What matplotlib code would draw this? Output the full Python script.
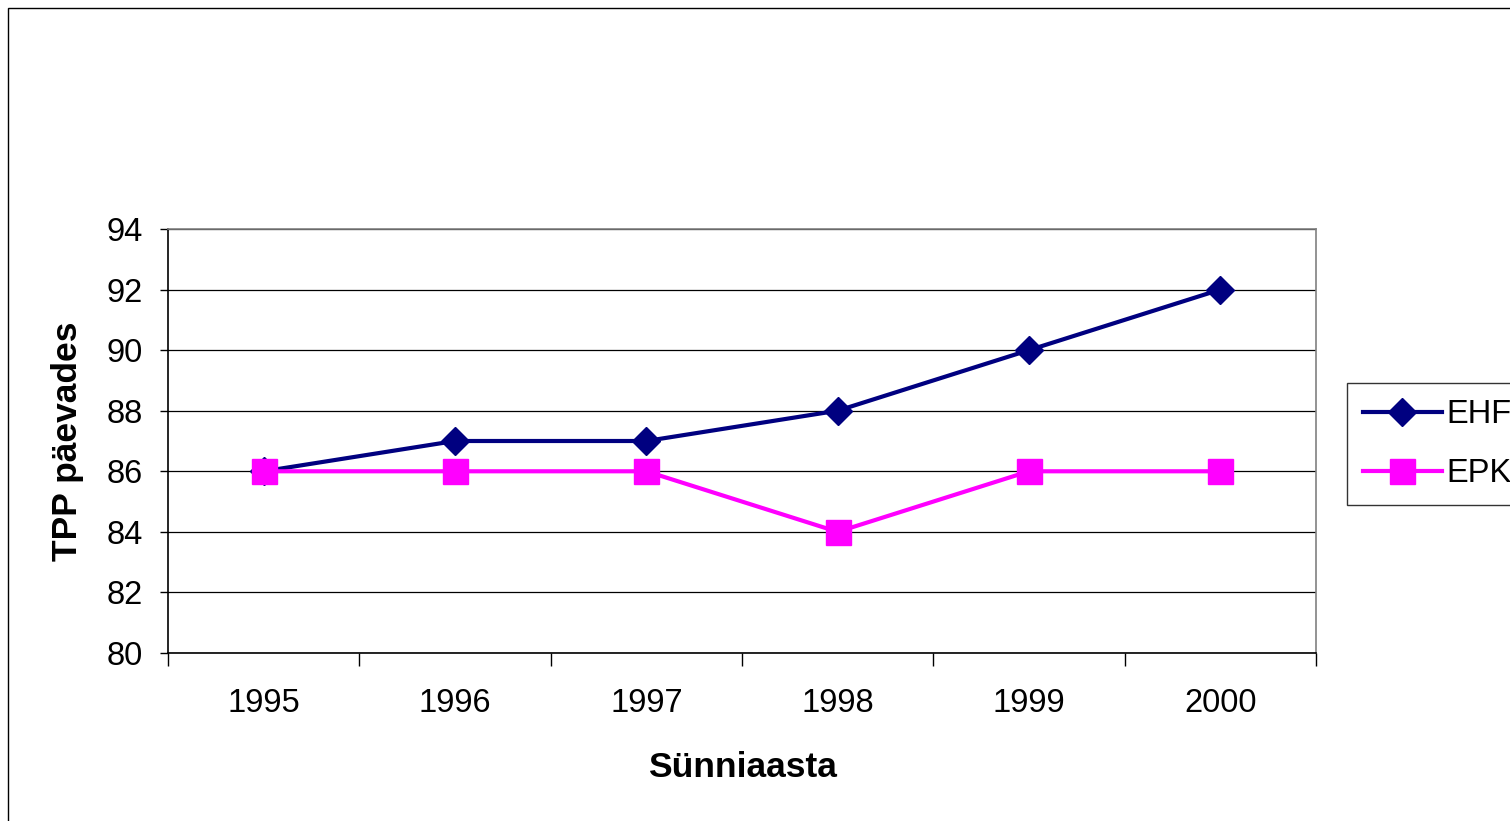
import numpy as np
import matplotlib.pyplot as plt
from matplotlib.patches import Rectangle

plt.rcParams['font.family'] = ['Liberation Sans', 'DejaVu Sans']

# 数据
years = ['1995', '1996', '1997', '1998', '1999', '2000']
ehf = [86, 87, 87, 88, 90, 92]
epk = [86, 86, 86, 84, 86, 86]
y_ticks = [80, 82, 84, 86, 88, 90, 92, 94]

fig = plt.figure(figsize=(15.1, 8.21), dpi=100)
ax = fig.add_axes([168 / 1510, 1 - 653 / 821, (1316 - 168) / 1510, (653 - 229) / 821])

x = np.arange(len(years))
ax.plot(x, ehf, color='#000080', lw=3, marker='D', markersize=14, label='EHF', zorder=3)
ax.plot(x, epk, color='#FF00FF', lw=3, marker='s', markersize=18, label='EPK', zorder=4)

ax.set_xlim(-0.5, len(years) - 0.5)
ax.set_ylim(80, 94)
ax.set_yticks(y_ticks)
ax.grid(axis='y', color='black', lw=0.9)
ax.set_axisbelow(True)

# 类别刻度在边界上，标签在中间
ax.set_xticks(np.arange(-0.5, len(years), 1.0))
ax.set_xticklabels([])
ax.set_xticks(x, minor=True)
ax.set_xticklabels(years, minor=True)
ax.tick_params(axis='x', which='major', length=9, width=1, color='black', direction='out')
ax.tick_params(axis='x', which='minor', length=0, pad=25, labelsize=23.5)
ax.tick_params(axis='y', length=6, width=1, direction='out', pad=12, labelsize=23.5)

for side in ['top', 'right']:
    ax.spines[side].set_color('#808080')
    ax.spines[side].set_linewidth(1.2)
for side in ['left', 'bottom']:
    ax.spines[side].set_color('black')
    ax.spines[side].set_linewidth(1.2)

ax.set_xlabel('Sünniaasta', fontsize=25.5, fontweight='bold', labelpad=23)
ax.set_ylabel('TPP päevades', fontsize=25.5, fontweight='bold', labelpad=16)

# 图例（参考图中右侧被裁切）
leg = ax.legend(loc='upper left', bbox_to_anchor=(1347 / 1510, 1 - 383 / 821),
                bbox_transform=fig.transFigure, fontsize=23.5, frameon=True,
                fancybox=False, edgecolor='black', handlelength=2.4,
                borderpad=0.5, labelspacing=0.85, handletextpad=0.15,
                borderaxespad=0)
leg.get_frame().set_linewidth(1)

# 外框
fig.patches.append(Rectangle((8 / 1510, -0.1), 1.2, 1 - 8 / 821 + 0.1,
                             transform=fig.transFigure, fill=False,
                             edgecolor='black', lw=1))

fig.savefig('out.png', dpi=100)
